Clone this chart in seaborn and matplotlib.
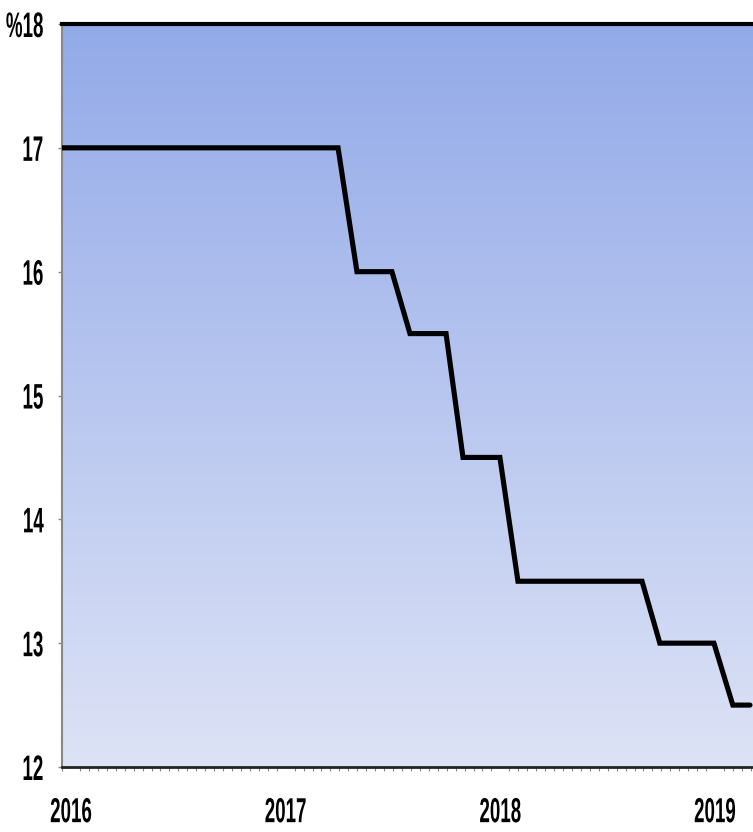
import numpy as np
import pandas as pd
import matplotlib
matplotlib.use("Agg")
import matplotlib.pyplot as plt
import seaborn as sns
from matplotlib import patheffects
from matplotlib.transforms import Affine2D
from matplotlib.colors import LinearSegmentedColormap
from matplotlib.ticker import MultipleLocator

# Policy rate path (decimal year, percent)
years = [2015.958, 2017.244, 2017.332, 2017.495, 2017.579, 2017.747, 2017.826,
         2017.998, 2018.082, 2018.660, 2018.743, 2018.995, 2019.083, 2019.163]
rates = [17.0, 17.0, 16.0, 16.0, 15.5, 15.5, 14.5,
         14.5, 13.5, 13.5, 13.0, 13.0, 12.5, 12.5]

x_ticks = [2016, 2017, 2018, 2019]
x_tick_labels = ["2016", "2017", "2018", "2019"]
y_ticks = [12, 13, 14, 15, 16, 17, 18]
y_tick_labels = ["12", "13", "14", "15", "16", "17", "%18"]

df = pd.DataFrame({"year": years, "rate": rates})


class Squeeze(patheffects.AbstractPathEffect):
    """Draw text horizontally compressed about its right edge or centre."""

    def __init__(self, sx, anchor="center"):
        super().__init__()
        self.sx = sx
        self.anchor = anchor

    def draw_path(self, renderer, gc, tpath, affine, rgbFace=None):
        bb = tpath.get_extents(affine)
        x0 = bb.x1 if self.anchor == "right" else 0.5 * (bb.x0 + bb.x1)
        squeeze = Affine2D().translate(-x0, 0).scale(self.sx, 1).translate(x0, 0)
        renderer.draw_path(gc, tpath, affine + squeeze, rgbFace)


sns.set_theme(style="white")
plt.rcParams["font.family"] = ["Liberation Sans", "DejaVu Sans"]

fig = plt.figure(figsize=(7.53, 8.32), dpi=100)
ax = fig.add_axes([62 / 753, 1 - 767 / 832, (753 - 62) / 753, (767 - 24) / 832])

# vertical blue gradient background
cmap = LinearSegmentedColormap.from_list("bg", ["#dde3f6", "#93aae9"])
grad = np.linspace(0, 1, 256).reshape(-1, 1)
ax.imshow(grad, cmap=cmap, aspect="auto", origin="lower",
          extent=[0, 1, 0, 1], transform=ax.transAxes, zorder=0)

sns.lineplot(data=df, x="year", y="rate", ax=ax, color="black",
             linewidth=3.7, sort=False, zorder=3, solid_joinstyle="miter")

ax.set_xlim(2015.958, 2019.177)
ax.set_ylim(12, 18)
ax.set_xticks(x_ticks)
ax.set_xticklabels(x_tick_labels)
ax.set_yticks(y_ticks)
ax.set_yticklabels(y_tick_labels)
ax.set_xlabel("")
ax.set_ylabel("")

ax.tick_params(axis="x", which="major", length=0, pad=21)
ax.tick_params(axis="y", which="major", length=3, width=1, color="#888888",
               direction="out", left=True, pad=10)
ax.xaxis.set_minor_locator(MultipleLocator(1 / 24))
ax.tick_params(axis="x", which="minor", bottom=True, length=3, width=0.8,
               color="#888888", direction="out")

for lab in ax.get_xticklabels():
    lab.set_fontsize(25)
    lab.set_fontweight("bold")
    lab.set_color("black")
    lab.set_path_effects([Squeeze(0.54, "center")])
for lab in ax.get_yticklabels():
    lab.set_fontsize(25.5)
    lab.set_fontweight("bold")
    lab.set_color("black")
    lab.set_path_effects([Squeeze(0.53, "right")])

ax.spines["top"].set_color("black")
ax.spines["top"].set_linewidth(3)
ax.spines["bottom"].set_color("#222222")
ax.spines["bottom"].set_linewidth(2)
ax.spines["left"].set_color("#888888")
ax.spines["left"].set_linewidth(1.5)
ax.spines["right"].set_visible(False)

fig.savefig("out.png", dpi=100)
